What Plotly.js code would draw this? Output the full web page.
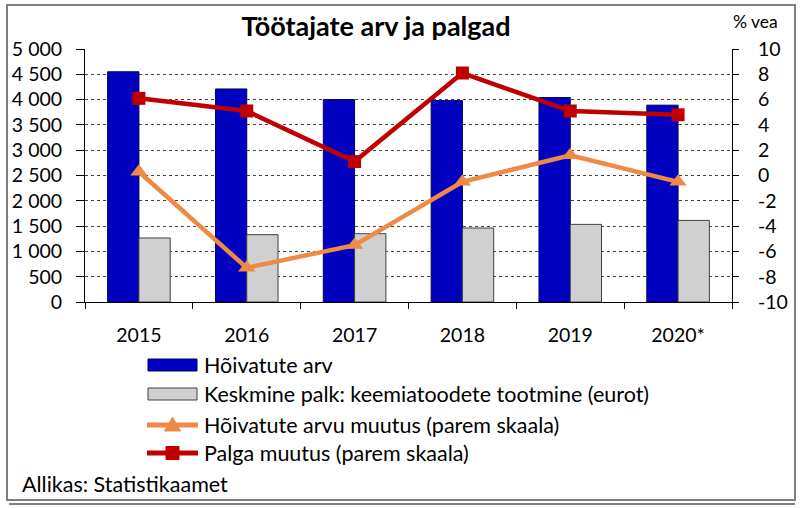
<!DOCTYPE html>
<html>
<head>
<meta charset="utf-8">
<script src="https://cdn.plot.ly/plotly-3.0.1.min.js"></script>
<style>html,body{margin:0;padding:0;background:#fff;}#chart{width:801px;height:508px;}</style>
</head>
<body>
<div id="chart"></div>
<script>
// ---- data ----
const years = ["2015", "2016", "2017", "2018", "2019", "2020*"];
const employed = [4550, 4210, 4000, 3980, 4040, 3890];
const avgWage = [1265, 1330, 1350, 1462, 1534, 1613];
const employedChange = [0.3, -7.3, -5.5, -0.5, 1.6, -0.5];
const wageChange = [6.1, 5.1, 1.1, 8.1, 5.1, 4.8];
const leftTicks = [0, 500, 1000, 1500, 2000, 2500, 3000, 3500, 4000, 4500, 5000];
const leftTickText = ["0", "500", "1 000", "1 500", "2 000", "2 500", "3 000", "3 500", "4 000", "4 500", "5 000"];
const rightTicks = [-10, -8, -6, -4, -2, 0, 2, 4, 6, 8, 10];
const rightTickText = ["-10", "-8", "-6", "-4", "-2", "0", "2", "4", "6", "8", "10"];
const legendNames = ["Hõivatute arv", "Keskmine palk: keemiatoodete tootmine (eurot)", "Hõivatute arvu muutus (parem skaala)", "Palga muutus (parem skaala)"];
const titleText = "Töötajate arv ja palgad";
const rightUnit = "% vea";
const sourceText = "Allikas: Statistikaamet";

// ---- layout geometry ----
const W = 801, H = 508;
const PL = 85, PR = 732, PT = 49, PB = 302;
const px = x => (x - PL) / (PR - PL);
const py = y => (PB - y) / (PB - PT);

const FONT = "Lato, 'Open Sans', sans-serif";
const BLUE = "#0000c0", GRAY = "#d0d0d0", ORANGE = "#ee8a45", RED = "#c00000";
const TICKSIZE = 19.5, TEXTSIZE = 21.5;

const traces = [
  {type: "bar", x: years, y: employed, name: legendNames[0], marker: {color: BLUE, line: {color: "#000060", width: 1}}, yaxis: "y", showlegend: false},
  {type: "bar", x: years, y: avgWage, name: legendNames[1], marker: {color: GRAY, line: {color: "#404040", width: 1}}, yaxis: "y", showlegend: false},
  {type: "scatter", mode: "lines+markers", x: years, y: employedChange, name: legendNames[2], yaxis: "y2",
   line: {color: ORANGE, width: 4.5}, marker: {symbol: "triangle-up", size: 15, color: ORANGE}, showlegend: false},
  {type: "scatter", mode: "lines+markers", x: years, y: wageChange, name: legendNames[3], yaxis: "y2",
   line: {color: RED, width: 4.5}, marker: {symbol: "square", size: 13, color: RED}, showlegend: false}
];

// custom legend
const rows = [365, 394, 425, 453];
const sx0 = 148, sx1 = 197, smid = 172.5;
const shapes = [
  {type: "rect", xref: "paper", yref: "paper", x0: px(7), x1: px(795), y0: py(500), y1: py(5), line: {color: "#7f7f7f", width: 2}, fillcolor: "rgba(0,0,0,0)", layer: "below"},
  {type: "line", xref: "paper", yref: "paper", x0: px(9), x1: px(795), y0: py(504), y1: py(504), line: {color: "#7f7f7f", width: 2}},
  {type: "rect", xref: "paper", yref: "paper", x0: px(sx0), x1: px(sx1), y0: py(rows[0] + 6), y1: py(rows[0] - 6), fillcolor: BLUE, line: {color: "#000060", width: 1}},
  {type: "rect", xref: "paper", yref: "paper", x0: px(sx0), x1: px(sx1), y0: py(rows[1] + 6), y1: py(rows[1] - 6), fillcolor: GRAY, line: {color: "#404040", width: 1}},
  {type: "line", xref: "paper", yref: "paper", x0: px(sx0 - 1), x1: px(sx1 + 1), y0: py(rows[2]), y1: py(rows[2]), line: {color: ORANGE, width: 5}},
  {type: "path", xref: "paper", yref: "paper", path: `M ${px(smid - 8)} ${py(rows[2] + 6)} L ${px(smid + 8)} ${py(rows[2] + 6)} L ${px(smid)} ${py(rows[2] - 8)} Z`, fillcolor: ORANGE, line: {color: ORANGE, width: 1}},
  {type: "line", xref: "paper", yref: "paper", x0: px(sx0 - 1), x1: px(sx1 + 1), y0: py(rows[3]), y1: py(rows[3]), line: {color: RED, width: 5}},
  {type: "rect", xref: "paper", yref: "paper", x0: px(smid - 6.5), x1: px(smid + 6.5), y0: py(rows[3] + 6.5), y1: py(rows[3] - 6.5), fillcolor: RED, line: {color: RED, width: 1}}
];

const annotations = legendNames.map((t, i) => ({
  text: t, xref: "paper", yref: "paper", x: px(202), y: py(rows[i]), xanchor: "left", yanchor: "middle",
  showarrow: false, font: {family: FONT, size: TEXTSIZE, color: "#000"}
}));
annotations.push({text: sourceText, xref: "paper", yref: "paper", x: px(20), y: py(484), xanchor: "left", yanchor: "middle", showarrow: false, font: {family: FONT, size: TEXTSIZE, color: "#000"}});
annotations.push({text: rightUnit, xref: "paper", yref: "paper", x: px(755), y: py(22), xanchor: "center", yanchor: "middle", showarrow: false, font: {family: FONT, size: 17.5, color: "#000"}});

const layout = {
  width: W, height: H,
  margin: {l: PL, r: W - PR, t: PT, b: H - PB, pad: 0},
  paper_bgcolor: "#fff", plot_bgcolor: "#fff",
  font: {family: FONT, size: TICKSIZE, color: "#000"},
  title: {text: titleText, x: 376 / W, xanchor: "center", xref: "container", y: 1 - 27 / H, yanchor: "middle", yref: "container",
          font: {family: FONT, size: 27, weight: "bold", color: "#000"}},
  barmode: "group", bargap: 0.42, bargroupgap: 0,
  showlegend: false,
  xaxis: {type: "category", tickson: "boundaries", ticks: "outside", ticklen: 6, tickcolor: "#000", tickwidth: 1,
          showline: true, linecolor: "#000", linewidth: 1, showgrid: false, ticklabelstandoff: 16,
          tickfont: {family: FONT, size: TICKSIZE, color: "#000"}},
  yaxis: {range: [0, 5000], tickvals: leftTicks, ticktext: leftTickText, ticks: "outside", ticklen: 8, tickcolor: "#000",
          showline: true, linecolor: "#000", linewidth: 1, showgrid: true, gridcolor: "#444", griddash: "dot", gridwidth: 1,
          zeroline: false, ticklabelstandoff: 10, tickfont: {family: FONT, size: TICKSIZE, color: "#000"}},
  yaxis2: {range: [-10, 10], tickvals: rightTicks, ticktext: rightTickText, overlaying: "y", side: "right", ticks: "outside", ticklen: 6, tickcolor: "#000",
           showline: true, linecolor: "#000", linewidth: 1, showgrid: false, zeroline: false, ticklabelstandoff: 15,
           tickfont: {family: FONT, size: TICKSIZE, color: "#000"}},
  shapes: shapes,
  annotations: annotations
};

Plotly.newPlot("chart", traces, layout, {displayModeBar: false, staticPlot: true});
</script>
</body>
</html>
